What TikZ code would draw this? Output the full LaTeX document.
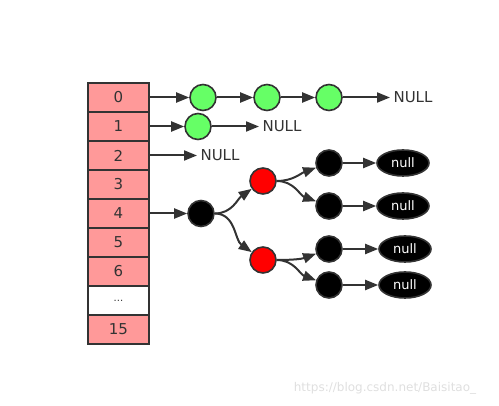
\documentclass[tikz,border=0pt]{standalone}
\usepackage{fontspec}
\setmainfont{DejaVu Sans}
\usetikzlibrary{arrows.meta,shapes.geometric}
\definecolor{slotred}{HTML}{FF9999}
\definecolor{leafgreen}{HTML}{66FF66}
\definecolor{edgegray}{HTML}{333333}

\begin{document}
\begin{tikzpicture}[x=1pt,y=-1pt]
        \tikzstyle{every node}=[font=\fontsize{15}{17}\selectfont, text=edgegray]
        \tikzstyle{slot}=[draw=edgegray, line width=2pt, fill=slotred, minimum width=61pt, minimum height=29pt, inner sep=0pt]
        \tikzstyle{ball}=[circle, draw=edgegray, line width=1.6pt, minimum size=26pt, inner sep=0pt]
        \tikzstyle{green ball}=[ball, fill=leafgreen]
        \tikzstyle{red ball}=[ball, fill=red]
        \tikzstyle{black ball}=[ball, fill=black]
        \tikzstyle{leaf}=[ellipse, draw=edgegray, line width=1.6pt, fill=black, text=white, minimum width=52pt, minimum height=26pt, inner sep=0pt, font=\fontsize{13}{15}\selectfont]
        \tikzstyle{link}=[draw=edgegray, line width=2pt, -{Triangle[length=13pt,width=10pt]}]
        \useasboundingbox (0,0) rectangle (499,406);
        % the bucket array
        \foreach \lab/\i in {0/0,1/1,2/2,3/3,4/4,5/5,6/6,15/8}
            \node[slot] (s\i) at (118.5,97.5+29*\i) {\lab};
        \node[slot, fill=white, font=\fontsize{10}{12}\selectfont] (s7) at (118.5,300.5) {...};
        % bucket 0
        \node[green ball] (g00) at (203,97.5) {};
        \node[green ball] (g01) at (267,97.5) {};
        \node[green ball] (g02) at (329,97.5) {};
        \node (n0) at (413,97.5) {NULL};
        \draw[link] (s0) -- (g00);
        \draw[link] (g00) -- (g01);
        \draw[link] (g01) -- (g02);
        \draw[link] (g02) -- (n0);
        % bucket 1
        \node[green ball] (g10) at (198,126.5) {};
        \node (n1) at (282,126.5) {NULL};
        \draw[link] (s1) -- (g10);
        \draw[link] (g10) -- (n1);
        % bucket 2
        \node (n2) at (220,155.5) {NULL};
        \draw[link] (s2) -- (n2);
        % bucket 4: the tree
        \node[black ball] (root) at (201,213.5) {};
        \node[red ball] (r1) at (263,181) {};
        \node[red ball] (r2) at (263,260) {};
        \node[black ball] (b1) at (329,163) {};
        \node[black ball] (b2) at (329,206) {};
        \node[black ball] (b3) at (329,249) {};
        \node[black ball] (b4) at (329,285) {};
        \node[leaf] (l1) at (403,163) {null};
        \node[leaf] (l2) at (403,206) {null};
        \node[leaf] (l3) at (405,249) {null};
        \node[leaf] (l4) at (405,285) {null};
        \draw[link] (s4) -- (root);
        \draw[link] (root) to[out=0,in=215] (r1);
        \draw[link] (root) to[out=0,in=145] (r2);
        \draw[link] (r1) to[out=0,in=200] (b1);
        \draw[link] (r1) to[out=0,in=160] (b2);
        \draw[link] (r2) to[out=0,in=200] (b3);
        \draw[link] (r2) to[out=0,in=160] (b4);
        \foreach \k in {1,2,3,4}
            \draw[link] (b\k) -- (l\k);
        % watermark
        \node[text=gray!25, font=\fontsize{12}{14}\selectfont] (mark) at (385,388) {https://blog.csdn.net/Baisitao\_};
\end{tikzpicture}
\end{document}
